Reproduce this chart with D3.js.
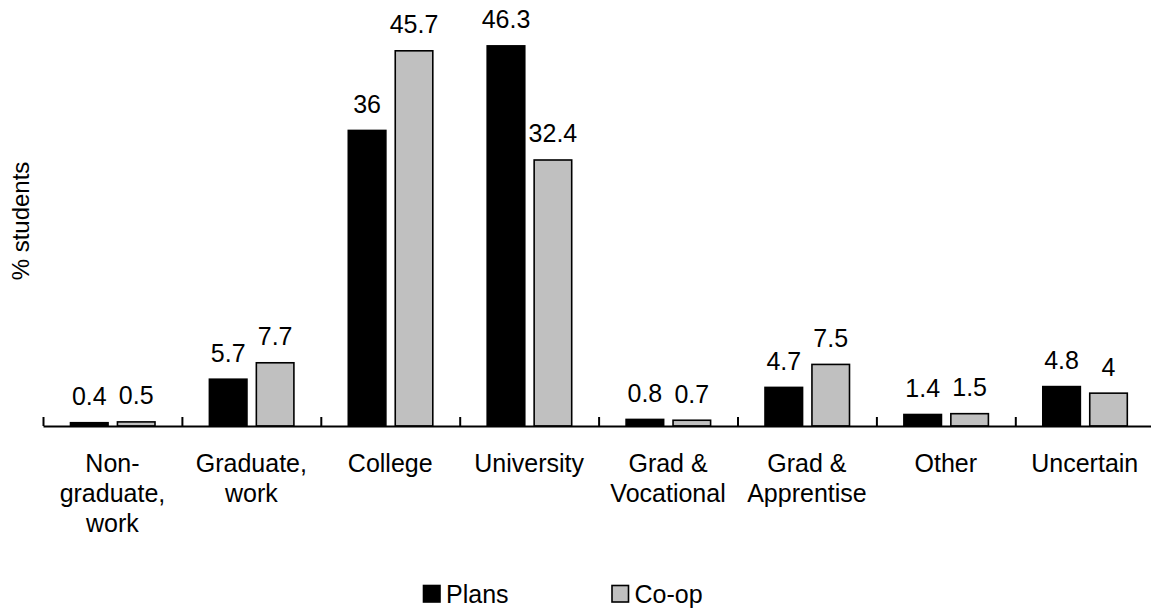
<!DOCTYPE html>
<html>
<head>
<meta charset="utf-8">
<script src="https://cdn.jsdelivr.net/npm/d3@7"></script>
<style>
  html, body { margin: 0; padding: 0; background: #fff; }
  svg { display: block; font-family: "Liberation Sans", Arial, sans-serif; }
</style>
</head>
<body>
<svg id="chart" width="1151" height="610"></svg>
<script>
// Post-school destinations, % of students
const categories = [
  ["Non-", "graduate,", "work"],
  ["Graduate,", "work"],
  ["College"],
  ["University"],
  ["Grad &", "Vocational"],
  ["Grad &", "Apprentise"],
  ["Other"],
  ["Uncertain"]
];
const seriesNames = ["Plans", "Co-op"];
const plansValues = [0.4, 5.7, 36, 46.3, 0.8, 4.7, 1.4, 4.8];
const coopValues  = [0.5, 7.7, 45.7, 32.4, 0.7, 7.5, 1.5, 4];
const seriesColors = ["#000000", "#c0c0c0"];

const svg = d3.select("#chart");
const baseY = 426;
const axisLeft = 43;
const step = 138.9;
const fontSize = 25;

const catKeys = categories.map((c, i) => "c" + i);
const x = d3.scaleBand()
  .domain(catKeys)
  .range([axisLeft, axisLeft + step * categories.length])
  .paddingInner(0).paddingOuter(0);

const xSub = d3.scaleBand()
  .domain(seriesNames)
  .range([27.5, 112])
  .paddingInner(0.2);

const y = d3.scaleLinear().domain([0, 50]).range([baseY, baseY - 50 * 8.21]);

const rows = categories.map((c, i) => ({
  key: catKeys[i],
  lines: c,
  values: [plansValues[i], coopValues[i]]
}));

// bars
const groups = svg.append("g").selectAll("g")
  .data(rows).join("g")
  .attr("transform", d => `translate(${x(d.key)},0)`);

groups.selectAll("rect")
  .data(d => d.values.map((v, j) => ({ v, s: seriesNames[j], j })))
  .join("rect")
  .attr("x", d => xSub(d.s))
  .attr("width", xSub.bandwidth())
  .attr("y", d => y(d.v))
  .attr("height", d => baseY - y(d.v))
  .attr("fill", d => seriesColors[d.j])
  .attr("stroke", "#000")
  .attr("stroke-width", 1.6);

// value labels
groups.selectAll("text.val")
  .data(d => d.values.map((v, j) => ({ v, s: seriesNames[j] })))
  .join("text")
  .attr("class", "val")
  .attr("x", d => xSub(d.s) + xSub.bandwidth() / 2)
  .attr("y", d => y(d.v) - 17.5)
  .attr("text-anchor", "middle")
  .attr("font-size", fontSize)
  .attr("fill", "#000")
  .text(d => d3.format("~g")(d.v));

// x axis: baseline with upward ticks at category boundaries
const axisG = svg.append("g").attr("transform", `translate(0,${baseY})`);
const xb = d3.scaleLinear().domain([0, categories.length]).range([axisLeft, axisLeft + step * categories.length]);
axisG.call(d3.axisBottom(xb)
  .tickValues(d3.range(categories.length))
  .tickSizeInner(-9)
  .tickSizeOuter(0)
  .tickFormat(""));
axisG.select(".domain").attr("stroke", "#000").attr("stroke-width", 2);
axisG.selectAll(".tick line").attr("stroke", "#000").attr("stroke-width", 2);

// category labels
const labels = svg.append("g").selectAll("text")
  .data(rows).join("text")
  .attr("text-anchor", "middle")
  .attr("font-size", fontSize)
  .attr("fill", "#000")
  .attr("x", d => x(d.key) + x.bandwidth() / 2)
  .attr("y", baseY + 46);
labels.selectAll("tspan")
  .data(d => d.lines)
  .join("tspan")
  .attr("x", function () { return d3.select(this.parentNode).attr("x"); })
  .attr("dy", (d, i) => i === 0 ? 0 : 30)
  .text(d => d);

// y axis title
svg.append("text")
  .attr("transform", "translate(29,221) rotate(-90)")
  .attr("text-anchor", "middle")
  .attr("font-size", 24)
  .attr("fill", "#000")
  .text("% students");

// legend
const legendX = [423.5, 612];
const legend = svg.append("g").selectAll("g")
  .data(seriesNames).join("g")
  .attr("transform", (d, i) => `translate(${legendX[i]},585.5)`);
legend.append("rect")
  .attr("width", 16.5).attr("height", 16.5)
  .attr("fill", (d, i) => seriesColors[i])
  .attr("stroke", "#000").attr("stroke-width", 1.6);
legend.append("text")
  .attr("x", 22.5).attr("y", 17.5)
  .attr("font-size", fontSize)
  .attr("fill", "#000")
  .text(d => d);
</script>
</body>
</html>
